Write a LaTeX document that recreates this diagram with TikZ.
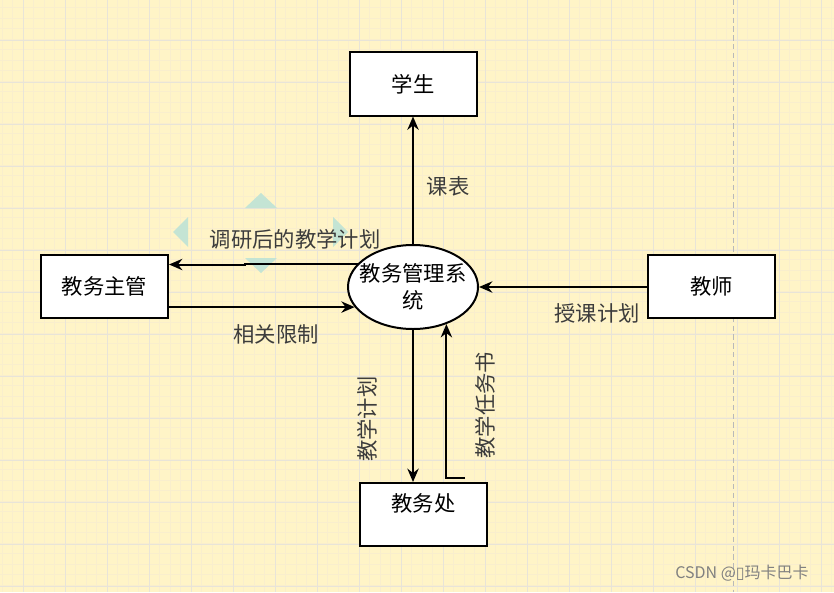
\documentclass[tikz,border=0pt]{standalone}
\usepackage{fontspec}
\setmainfont{Noto Sans CJK SC}
\newfontfamily\symfont{DejaVu Sans}
\usetikzlibrary{shapes.geometric, arrows.meta, positioning, calc}
\definecolor{paper}{RGB}{255,244,199}
\definecolor{gridmajor}{RGB}{232,228,216}
\definecolor{gridminor}{RGB}{249,238,205}
\definecolor{labelgray}{RGB}{60,60,60}
\definecolor{hovermark}{RGB}{196,228,212}
\tikzstyle{flow} = [line width=1.5pt,-{Stealth[length=10pt,width=8.5pt]}]
\tikzstyle{entity} = [rectangle, minimum width=95.25pt, minimum height=47.25pt, text centered, draw=black, fill=white, line width=1.5pt, font=\fontsize{16}{19}\selectfont]
\tikzstyle{process} = [ellipse, minimum width=97.5pt, minimum height=63pt, inner xsep=-7pt, inner ysep=0pt, align=center, draw=black, fill=white, line width=1.5pt, font=\fontsize{16}{20}\selectfont]
\tikzstyle{flowlabel} = [text=labelgray, inner sep=0pt, font=\fontsize{16}{19}\selectfont]

\begin{document}
\begin{tikzpicture}[x=0.75pt,y=-0.75pt,on grid]
	% paper
	\useasboundingbox (0,0) rectangle (834,592);
	\begin{scope}
	\clip (0,0) rectangle (834,592);
	\fill[paper] (0,0) rectangle (834,592);
	\foreach \k in {0,...,79} {\draw[gridminor,line width=0.5pt] ({2.3+10.5*\k},0) -- ++(0,592);}
	\foreach \k in {0,...,56} {\draw[gridminor,line width=0.5pt] (0,{7.7+10.5*\k}) -- ++(834,0);}
	\foreach \k in {0,...,19} {\draw[gridmajor,line width=0.8pt] ({23.3+42*\k},0) -- ++(0,592);}
	\foreach \k in {0,...,14} {\draw[gridmajor,line width=0.8pt] (0,{40.7+42*\k}) -- ++(834,0);}
	\draw[gray!55,line width=0.9pt,dash pattern=on 4pt off 2.6pt] (733.3,0) -- (733.3,592);
	\end{scope}

	% hover marks
	\fill[hovermark] (245,208) -- (277,208) -- (261,193) -- cycle;
	\fill[hovermark] (245,258) -- (277,258) -- (261,273) -- cycle;
	\fill[hovermark] (188,217) -- (188,247) -- (173,232) -- cycle;
	\fill[hovermark] (333,217) -- (333,247) -- (348,232) -- cycle;

	\node[process](xt) at (413,287) {教务管理系\\统};
	\node[entity](xs)[above=152.25pt of xt] {学生};
	\node[entity](zg) at (104.5,286.5) {教务主管};
	\node[entity](js) at (711.5,286.5) {教师};
	\node[entity,text height=12pt,text depth=16.5pt](jwc) at (423.5,514.5) {教务处};

	\coordinate (bk) at (245,264.5);
	\coordinate (tk) at (465,478);
	\draw[flow] (xt.north) -- (xs.south);
	\draw[flow] (xt.157) -- (xt.157 -| bk) -- (bk) -- (zg.east |- bk);
	\draw[flow] (zg.east |- xt.199) -- (xt.199);
	\draw[flow] (js.west |- xt.east) -- (xt.east);
	\draw[flow] (xt.south) -- (xt.south |- jwc.north);
	\draw[flow] (tk) -- (tk -| xt.312) -- (xt.312);

	\node[flowlabel](l_kb) at (448,186) {课表};
	\node[flowlabel](l_dy) at (295,239) {调研后的教学计划};
	\node[flowlabel](l_xg) at (276,334) {相关限制};
	\node[flowlabel](l_sk) at (597,313) {授课计划};
	\node[flowlabel,rotate=90](l_jx) at (367.5,419) {教学计划};
	\node[flowlabel,rotate=90](l_rw) at (485,405) {教学任务书};

	\node[text=gray,inner sep=0pt,font=\fontsize{12}{14}\selectfont](mark) at (742,573) {CSDN @{\symfont ▯}玛卡巴卡};
\end{tikzpicture}
\end{document}
